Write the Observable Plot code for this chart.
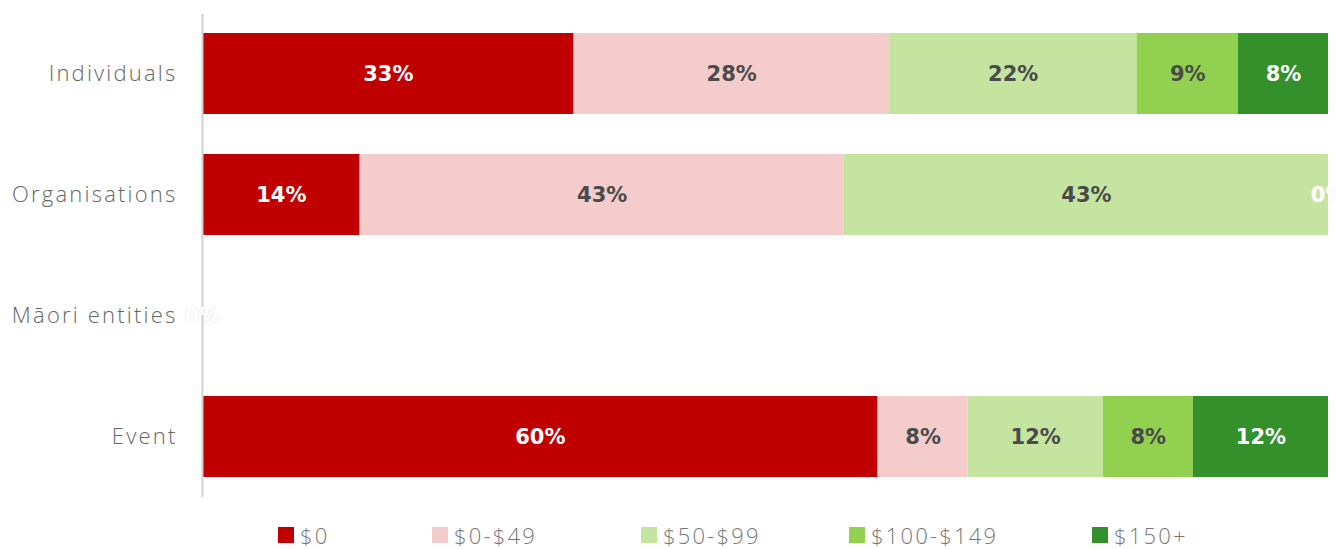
<!DOCTYPE html>
<html>
<head>
<meta charset="utf-8">
<script src="https://cdn.jsdelivr.net/npm/d3@7"></script>
<script src="https://cdn.jsdelivr.net/npm/@observablehq/plot@0.6"></script>
<style>
  html, body { margin: 0; padding: 0; background: #fff; }
  #chart svg { display: block; }
  #chart svg g[aria-label="y-axis tick label"] text { letter-spacing: 2.2px; }
  .legend { position: relative; height: 39px;
    font-family: "Open Sans", sans-serif; font-size: 22px; color: #777; font-weight: 300; letter-spacing: 2.2px; }
  .legend .item { position: absolute; top: 10px; display: flex; align-items: center; white-space: nowrap; }
  .legend .sw { width: 16px; height: 16px; margin-right: 6px; }
</style>
</head>
<body>
<div id="chart"></div>
<div class="legend" id="legend"></div>
<script>
const categories = ["Individuals", "Organisations", "Māori entities", "Event"];
const seriesNames = ["$0", "$0-$49", "$50-$99", "$100-$149", "$150+"];
const seriesColors = ["#c00000", "#f4cccc", "#c5e4a0", "#92d050", "#33902b"];
const labelColors = ["#ffffff", "#4a4a4a", "#4a4a4a", "#4a4a4a", "#ffffff"];
const values0 = [33, 14, 0, 60];
const values1 = [28, 43, 0, 8];
const values2 = [22, 43, 0, 12];
const values3 = [9, 0, 0, 8];
const values4 = [8, 0, 0, 12];
const seriesValues = [values0, values1, values2, values3, values4];

const data = [];
seriesNames.forEach((s, si) => {
  categories.forEach((c, ci) => {
    data.push({cat: c, series: s, value: seriesValues[si][ci], si});
  });
});
const labelData = data.filter(d => d.value > 0 || labelColors[d.si] === "#ffffff");

const chart = Plot.plot({
  width: 1336,
  height: 510,
  marginLeft: 202,
  marginRight: 8,
  marginTop: 14,
  marginBottom: 13,
  style: {fontFamily: "Open Sans, sans-serif", background: "#fff", overflow: "visible"},
  x: {domain: [0, 100], axis: null},
  y: {domain: categories, paddingInner: 0.33, paddingOuter: 0.16, label: null},
  color: {domain: seriesNames, range: seriesColors},
  marks: [
    Plot.barX(data, Plot.stackX({x: "value", y: "cat", fill: "series", order: seriesNames})),
    Plot.ruleX([0], {stroke: "#d0d0d0", strokeWidth: 2}),
    Plot.text(labelData, Plot.stackX({
      x: "value", y: "cat", z: "series", order: seriesNames,
      text: d => d.value + "%",
      fill: d => labelColors[d.si],
      stroke: d => d.value === 0 ? "#e6e6e6" : "none", strokeWidth: 0.6,
      fontSize: 21, fontWeight: 700, fontFamily: "DejaVu Sans"
    })),
    Plot.axisY({tickSize: 0, tickPadding: 25, fontSize: 22, fill: "#666", fontWeight: 300})
  ]
});
document.getElementById("chart").appendChild(chart);

const legendLeft = [278, 432, 641, 849, 1092];
const legend = document.getElementById("legend");
seriesNames.forEach((s, i) => {
  const item = document.createElement("div");
  item.className = "item";
  item.style.left = legendLeft[i] + "px";
  const sw = document.createElement("span");
  sw.className = "sw";
  sw.style.background = seriesColors[i];
  const t = document.createElement("span");
  t.textContent = s;
  item.appendChild(sw);
  item.appendChild(t);
  legend.appendChild(item);
});
</script>
</body>
</html>
